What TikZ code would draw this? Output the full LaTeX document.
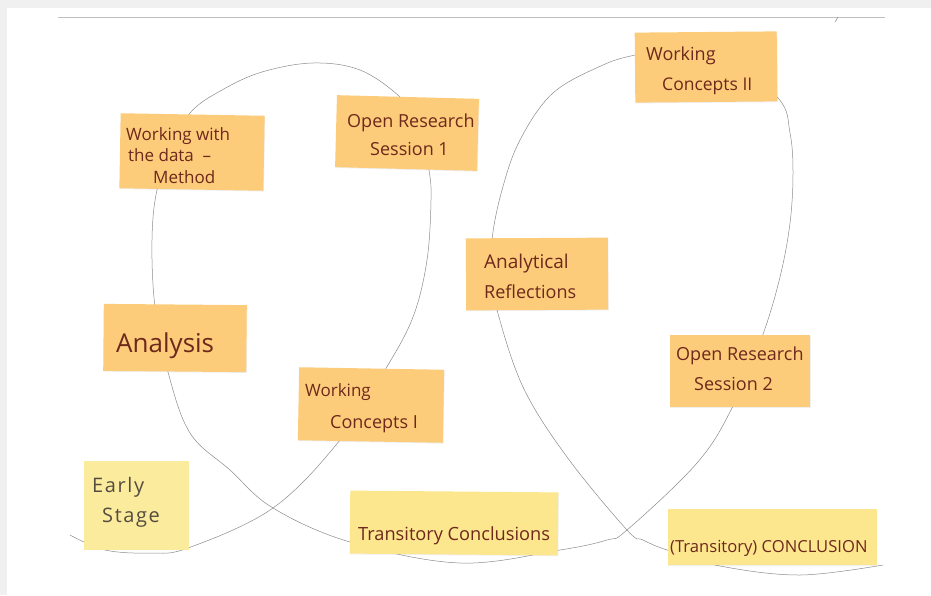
\documentclass[tikz,border=0pt]{standalone}
\usepackage{fontspec}
\setmainfont{Open Sans}
\usetikzlibrary{shadows}
\definecolor{paper}{RGB}{255,255,255}
\definecolor{frame}{RGB}{240,240,240}
\definecolor{pencil}{RGB}{140,140,140}
\definecolor{orangenote}{RGB}{252,204,122}
\definecolor{yellownote}{RGB}{252,230,142}
\definecolor{palenote}{RGB}{250,236,156}
\definecolor{ink}{RGB}{110,40,28}
\definecolor{grayink}{RGB}{85,75,65}
\newcommand{\fs}[1]{\fontsize{#1}{#1}\selectfont}
\tikzset{
  note/.style={draw=none, inner sep=0pt, drop shadow={shadow xshift=0.6pt, shadow yshift=-0.8pt, opacity=0.12}},
  onote/.style={note, fill=orangenote},
  ynote/.style={note, fill=yellownote},
  pnote/.style={note, fill=palenote},
  hand/.style={text=ink, anchor=base west, inner sep=0pt, font=\fs{18}},
  softhand/.style={hand, text=grayink, font=\fs{20}\addfontfeatures{LetterSpace=8}},
  loop/.style={draw=pencil, line width=0.5pt, line cap=round},
}
\begin{document}
\begin{tikzpicture}[x=1pt,y=-1pt]
  % page and scanner frame
  \fill[frame] (0,0) rectangle (931,595);
  \fill[paper] (7,8) rectangle (931,595);
  \useasboundingbox (0,0) rectangle (931,595);
  \draw[black!25, line width=0.4pt] (58,17) -- (885,17);
  \draw[pencil, line width=0.5pt] (835,22) -- (838,17);

  % the pencil loop that runs behind all the notes
  \draw[loop] plot[smooth, tension=0.6] coordinates {
    (70,535) (105,550) (150,553) (188,548) (273,508) (340,440) (385,370)
    (413,317) (427,260) (431,200) (429,170) (420,125) (400,97) (360,70)
    (313,63) (262,72) (222,90) (190,113) (172,150) (157,190) (152,240)
    (155,307) (168,372) (190,433) (230,470) (273,508) (350,542) (460,563)
    (560,550) (607,540) (627,530) (697,463) (732,408) (762,337) (780,277)
    (790,223) (793,173) (790,133) (778,98) (720,55) (665,50) (635,55)
    (603,65) (553,93) (520,140) (502,190) (492,240) (493,280) (497,310)
    (523,387) (567,457) (627,530) (643,540) (667,550) (720,566)
    (800,575) (883,565)};

  % sticky notes
  \node[onote, minimum width=144pt, minimum height=75pt, rotate=-1] (wwd) at (192,152) {};
  \node[onote, minimum width=142pt, minimum height=72pt, rotate=-1.5] (ors1) at (407,133) {};
  \node[onote, minimum width=142pt, minimum height=70pt, rotate=0.5] (wc2) at (706,67) {};
  \node[onote, minimum width=142pt, minimum height=72pt, rotate=0.3] (ar) at (537,274) {};
  \node[onote, minimum width=143pt, minimum height=67pt, rotate=-0.5] (ana) at (175,338) {};
  \node[onote, minimum width=145pt, minimum height=73pt, rotate=-1] (wc1) at (371,405) {};
  \node[onote, minimum width=140pt, minimum height=72pt, rotate=0] (ors2) at (740,371) {};
  \node[pnote, minimum width=105pt, minimum height=89pt, rotate=0] (early) at (136,505) {};
  \node[ynote, minimum width=208pt, minimum height=63pt, rotate=-0.5] (tc) at (454,523) {};
  \node[ynote, minimum width=209pt, minimum height=56pt, rotate=0] (conc) at (772,537) {};

  % handwriting on the notes
  \node[hand, font=\fs{17}] (wwdA) at (126,140) {Working with};
  \node[hand, font=\fs{17}] (wwdB) at (128,161) {the data \ --};
  \node[hand, font=\fs{17}] (wwdC) at (153,183) {Method};

  \node[hand] (ors1A) at (347,127) {Open Research};
  \node[hand] (ors1B) at (370,155) {Session 1};

  \node[hand] (wc2A) at (646,60) {Working};
  \node[hand, font=\fs{17.5}] (wc2B) at (662,90) {Concepts II};

  \node[hand, font=\fs{19}] (arA) at (484,268) {Analytical};
  \node[hand] (arB) at (484,298) {Reflections};

  \node[hand, font=\fs{26}] (anaA) at (116,352) {Analysis};

  \node[hand, font=\fs{17}] (wc1A) at (305,396) {Working};
  \node[hand] (wc1B) at (330,428) {Concepts I};

  \node[hand] (ors2A) at (676,360) {Open Research};
  \node[hand] (ors2B) at (694,390) {Session 2};

  \node[softhand] (earlyA) at (92,492) {Early};
  \node[softhand] (earlyB) at (102,522) {Stage};

  \node[hand, font=\fs{18.2}] (tcA) at (358,540) {Transitory Conclusions};
  \node[hand, font=\fs{16.6}] (concA) at (670,552) {(Transitory) CONCLUSION};
\end{tikzpicture}
\end{document}
